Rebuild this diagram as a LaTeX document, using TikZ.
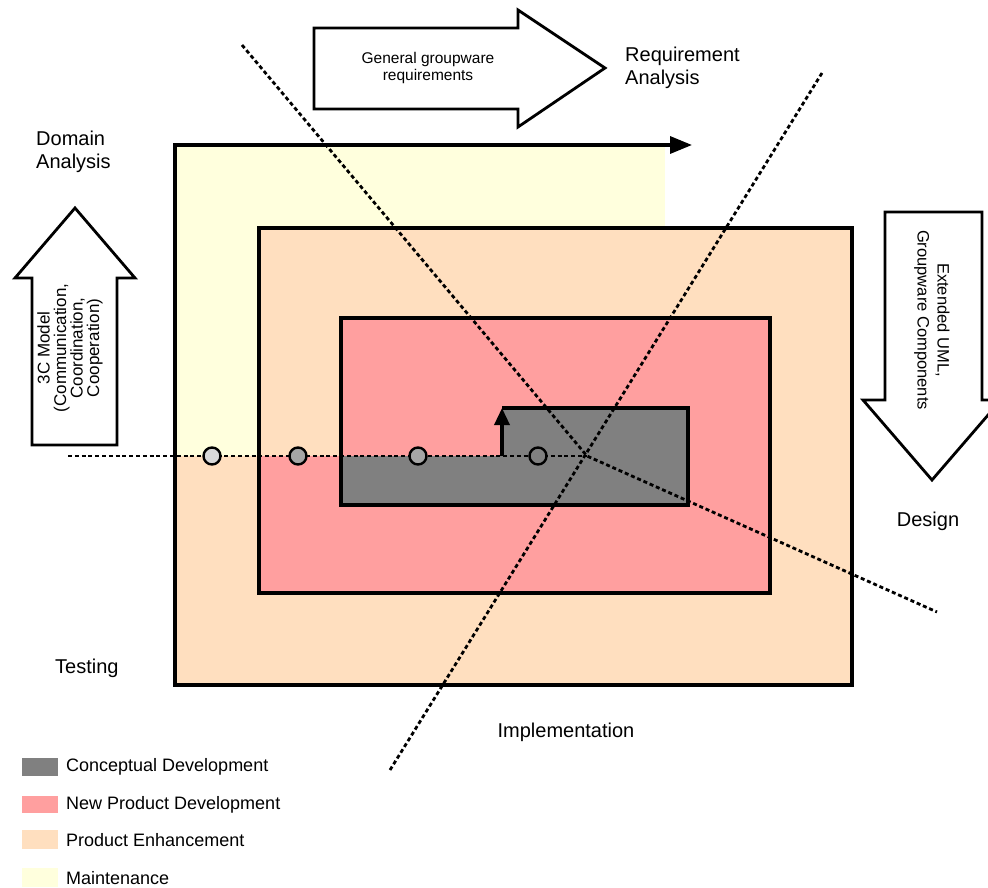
\documentclass[tikz,border=0pt]{standalone}
\usepackage{fontspec}
\setmainfont{Liberation Sans}
\usetikzlibrary{arrows.meta}
\definecolor{maint}{HTML}{FFFFDD}
\definecolor{enh}{HTML}{FFDFBF}
\definecolor{npd}{HTML}{FF9F9F}
\definecolor{concept}{HTML}{808080}
\begin{document}
\begin{tikzpicture}[x=1pt,y=-1pt,
  spiralline/.style={line width=3.4pt, line join=miter},
  phaseline/.style={dash pattern=on 4pt off 2.8pt, line width=2.8pt},
  blockarrow/.style={draw, line width=2.8pt, fill=white, line join=miter},
  lbl/.style={font=\fontsize{20}{23}\selectfont, inner sep=0pt},
  smalltxt/.style={font=\fontsize{15.5}{17}\selectfont, inner sep=0pt, align=center},
  legtxt/.style={font=\fontsize{18}{20}\selectfont, inner sep=0pt, anchor=west},
  milestone/.style={circle, draw, line width=2.4pt, minimum size=17pt, inner sep=0pt}]
\useasboundingbox (0,0) rectangle (988,888);
\clip (0,0) rectangle (988,888);

% phase fills
\fill[maint] (175,145) rectangle (665,456);
\fill[enh] (259,228) rectangle (852,685);
\fill[enh] (175,456) rectangle (259,685);
\fill[npd] (341,318) rectangle (770,593);
\fill[npd] (259,456) rectangle (341,593);
\fill[concept] (341,456) -- (341,505) -- (688,505) -- (688,408) -- (502,408) -- (502,456) -- cycle;

% block arrows
\draw[blockarrow] (314,28) -- (518,28) -- (518,10) -- (605,68) -- (518,127) -- (518,109) -- (314,109) -- cycle;
\draw[blockarrow] (32,445) -- (32,278) -- (15,278) -- (75,208) -- (135,278) -- (117,278) -- (117,445) -- cycle;
\draw[blockarrow] (885,212) -- (982,212) -- (982,400) -- (1001,400) -- (932,480) -- (863,400) -- (885,400) -- cycle;

% coordinates
\coordinate (X) at (587,456);
\coordinate (h0) at (68,456);
\coordinate (d1a) at (242,45);
\coordinate (d1b) at (937,612);
\coordinate (d2a) at (390,770);
\coordinate (d2b) at (822,73);

% phase boundaries
\draw[phaseline] (h0) -- (X);
\draw[phaseline] (d1a) -- (X) -- (d1b);
\draw[phaseline] (d2a) -- (d2b);

% spiral
\coordinate (s0) at (502,456);
\coordinate (s1) at (502,408);
\draw[spiralline, -{Triangle[length=17pt,width=15pt]}] (s0) -- (s1);
\draw[spiralline, -{Triangle[length=22pt,width=17pt]}] (s1) -- (688,408) -- (688,505) -- (341,505) -- (341,318) -- (770,318) -- (770,593) -- (259,593) -- (259,228) -- (852,228) -- (852,685) -- (175,685) -- (175,145) -- (692,145);

% milestones
\node[milestone, fill=black!15] (m1) at (212,456) {};
\node[milestone, fill=black!35] (m2) at (298,456) {};
\node[milestone, fill=black!35] (m3) at (418,456) {};
\node[milestone, fill=concept] (m4) at (538,456) {};

% texts
\node[smalltxt] (gg) at (428,68) {General groupware\\requirements};
\node[font=\fontsize{17}{16.5}\selectfont, inner sep=0pt, align=center, rotate=90] (cm) at (70,348) {3C Model\\(Communication,\\Coordination,\\Cooperation)};
\node[font=\fontsize{16.5}{20}\selectfont, inner sep=0pt, align=center, rotate=-90] (ex) at (932,320) {Extended UML,\\Groupware Components};

\node[lbl, align=left, anchor=west] (da) at (36,152) {Domain\\Analysis};
\node[lbl, align=left, anchor=west] (ra) at (625,68) {Requirement\\Analysis};
\node[lbl] (de) at (928,521) {Design};
\node[lbl, anchor=west] (te) at (55,668) {Testing};
\node[lbl] (im) at (566,732) {Implementation};

% legend
\fill[concept] (22,758) rectangle (58,776);
\fill[npd] (22,796) rectangle (58,813);
\fill[enh] (22,830) rectangle (58,849);
\fill[maint] (22,868) rectangle (58,887);
\node[legtxt] (l1) at (66,767) {Conceptual Development};
\node[legtxt] (l2) at (66,805) {New Product Development};
\node[legtxt] (l3) at (66,840) {Product Enhancement};
\node[legtxt] (l4) at (66,878) {Maintenance};
\end{tikzpicture}
\end{document}
